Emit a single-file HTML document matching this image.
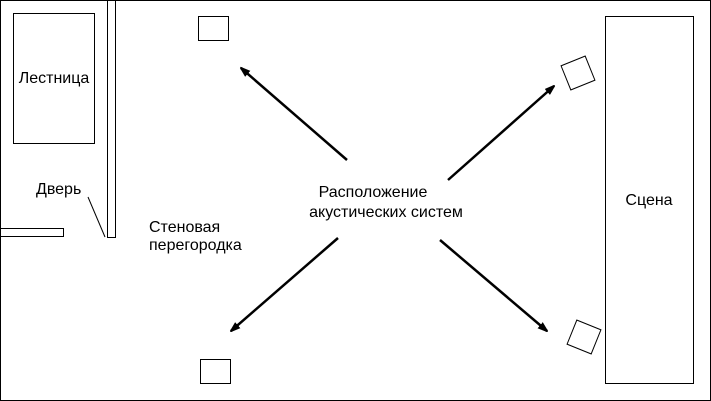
<!DOCTYPE html><html><head><style>body{margin:0;background:#fff}svg{display:block}text{font-family:"Liberation Sans",sans-serif;font-size:16px;fill:#000}</style></head><body>
<svg width="711" height="401" viewBox="0 0 711 401">
<defs><marker id="a" markerWidth="10" markerHeight="8" refX="9" refY="4" orient="auto" markerUnits="userSpaceOnUse"><path d="M0,0L12,4L0,8z" fill="#000"/></marker></defs>
<rect x="0.5" y="0.5" width="710" height="400" fill="#fff" stroke="#000"/>
<rect x="13.5" y="13.5" width="81" height="130" fill="none" stroke="#000"/>
<text x="54" y="83" text-anchor="middle">Лестница</text>
<rect x="107.5" y="0.5" width="8" height="237" fill="none" stroke="#000"/>
<rect x="0.5" y="228.5" width="63" height="8" fill="none" stroke="#000"/>
<line x1="88" y1="197" x2="105" y2="237" stroke="#000"/>
<text x="36" y="194">Дверь</text>
<text x="149" y="232">Стеновая</text>
<text x="149" y="250">перегородка</text>
<rect x="198.5" y="16.5" width="30" height="24" fill="none" stroke="#000"/>
<rect x="200.5" y="359.5" width="30" height="24" fill="none" stroke="#000"/>
<rect x="-13" y="-13" width="26" height="26" fill="none" stroke="#000" transform="translate(578,73) rotate(-22)"/>
<rect x="-13" y="-13" width="26" height="26" fill="none" stroke="#000" transform="translate(584,337) rotate(22)"/>
<rect x="605.5" y="16.5" width="88" height="367" fill="none" stroke="#000"/>
<text x="649" y="205" text-anchor="middle">Сцена</text>
<text x="373" y="197" text-anchor="middle">Расположение</text>
<text x="386" y="217" text-anchor="middle">акустических систем</text>
<g stroke="#000" stroke-width="2.5" marker-end="url(#a)">
<line x1="347" y1="160" x2="241" y2="68"/>
<line x1="448" y1="180" x2="554" y2="86"/>
<line x1="338" y1="238" x2="231" y2="331"/>
<line x1="440" y1="240" x2="547" y2="331"/>
</g>
</svg></body></html>
